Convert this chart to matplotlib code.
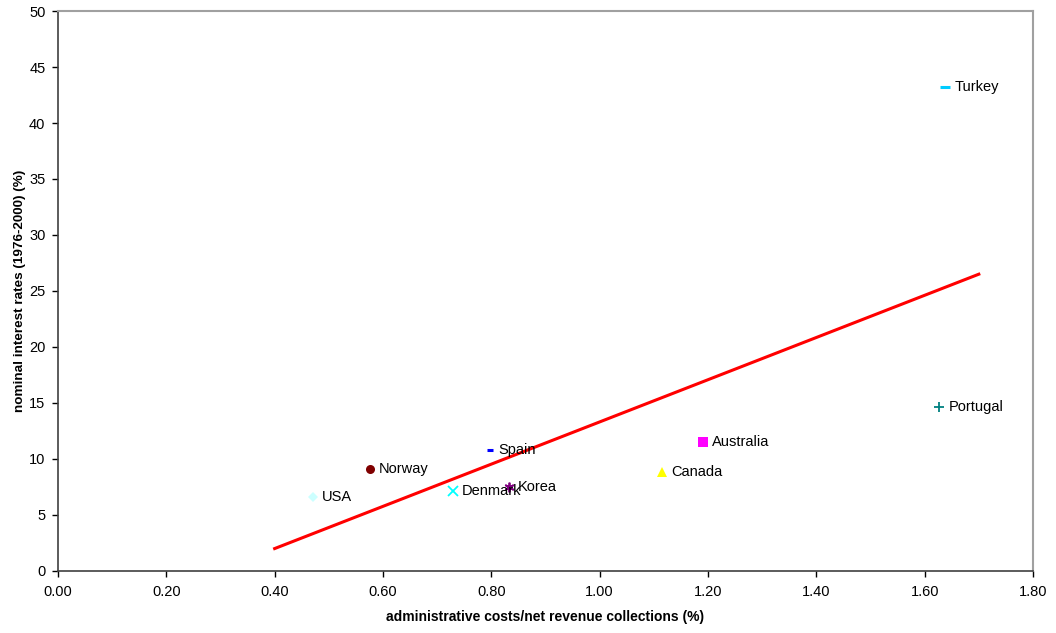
import numpy as np
import matplotlib.pyplot as plt

plt.rcParams['font.family'] = ['Liberation Sans', 'DejaVu Sans']
plt.rcParams['font.size'] = 10.5

# 各国数据：行政成本/净税收 (%) 与名义利率 (%)
countries = ['USA', 'Norway', 'Spain', 'Denmark', 'Korea',
             'Australia', 'Canada', 'Portugal', 'Turkey']
admin_cost = [0.47, 0.576, 0.797, 0.729, 0.832, 1.19, 1.116, 1.627, 1.638]
interest = [6.6, 9.1, 10.8, 7.1, 7.5, 11.5, 8.8, 14.6, 43.2]
markers = ['D', 'o', '_', 'x', (6, 2, 0), 's', '^', '+', '_']
colors = ['#ccffff', '#800000', '#0000ff', '#00ffff', '#800080',
          '#ff00ff', '#ffff00', '#008080', '#00ccff']
sizes = [5, 6.5, 5, 6.5, 7, 6.5, 6.5, 7, 7]

# 趋势线端点
trend_x = [0.40, 1.70]
trend_y = [2.0, 26.5]

fig = plt.figure(figsize=(10.56, 6.33), dpi=100)
ax = fig.add_axes([0.0549, 0.098, 0.9233, 0.8846])

for name, x, y, m, c, s in zip(countries, admin_cost, interest, markers, colors, sizes):
    if m in ('x', '+', '_') or isinstance(m, tuple):
        mew = 2.2 if m == '_' else 1.3
        ax.plot(x, y, marker=m, color=c, markersize=s, markeredgewidth=mew,
                linestyle='none')
    else:
        ax.plot(x, y, marker=m, color=c, markersize=s, markeredgewidth=0,
                linestyle='none')
    ax.annotate(name, (x, y), xytext=(6.5, 0), textcoords='offset points',
                va='center', ha='left')

ax.plot(trend_x, trend_y, color='#ff0000', linewidth=2.2)

ax.set_xlim(0, 1.8)
ax.set_ylim(0, 50)
ax.set_xticks(np.arange(0, 1.81, 0.2))
ax.set_xticklabels(['%.2f' % v for v in np.arange(0, 1.81, 0.2)])
ax.set_yticks(np.arange(0, 51, 5))
ax.tick_params(direction='out', length=4, width=1, colors='black')
ax.tick_params(axis='x', pad=6)
ax.tick_params(axis='y', pad=5)

for side in ('top', 'right'):
    ax.spines[side].set_color('#a0a0a0')
    ax.spines[side].set_linewidth(1.5)
for side in ('left', 'bottom'):
    ax.spines[side].set_color('#404040')
    ax.spines[side].set_linewidth(1.2)

ax.set_xlabel('administrative costs/net revenue collections (%)',
              fontweight='bold', fontsize=10, labelpad=8)
ax.set_ylabel('nominal interest rates (1976-2000) (%)',
              fontweight='bold', fontsize=9.7, labelpad=2)

fig.savefig('out.png', dpi=100)
